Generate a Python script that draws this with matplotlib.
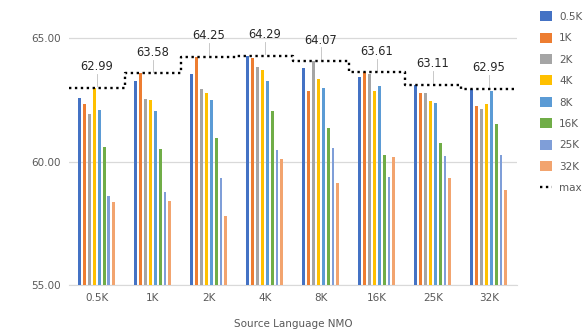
import matplotlib
matplotlib.use("Agg")
import matplotlib.pyplot as plt
from matplotlib.lines import Line2D
from matplotlib.patches import Patch
import numpy as np

groups = ["0.5K", "1K", "2K", "4K", "8K", "16K", "25K", "32K"]
series = ["0.5K", "1K", "2K", "4K", "8K", "16K", "25K", "32K"]
colors = ["#4472C4", "#ED7D31", "#A5A5A5", "#FFC000",
          "#5B9BD5", "#70AD47", "#7F9ED8", "#F2A46F"]

# rows = source-language group, cols = series
values = np.array([
    [62.58, 62.35, 61.93, 62.99, 62.08, 60.58, 58.62, 58.35],
    [63.26, 63.58, 62.54, 62.50, 62.04, 60.51, 58.77, 58.39],
    [63.53, 64.25, 62.95, 62.78, 62.49, 60.94, 59.32, 57.81],
    [64.29, 64.20, 63.84, 63.69, 63.27, 62.05, 60.47, 60.12],
    [63.77, 62.84, 64.07, 63.34, 62.99, 61.34, 60.55, 59.14],
    [63.42, 63.61, 63.53, 62.84, 63.07, 60.26, 59.36, 60.19],
    [63.11, 62.76, 62.76, 62.45, 62.39, 60.74, 60.23, 59.32],
    [62.95, 62.24, 62.12, 62.35, 62.87, 61.53, 60.28, 58.86],
])
max_vals = [62.99, 63.58, 64.25, 64.29, 64.07, 63.61, 63.11, 62.95]

fig = plt.figure(figsize=(5.88, 3.35), dpi=100, facecolor="w")
ax = fig.add_axes([0.117, 0.149, 0.762, 0.811])

x = np.arange(len(groups))
step = 0.0868
width = 0.052
for i, name in enumerate(series):
    ax.bar(x + (i - 3.5) * step, values[:, i] - 55, width=width, bottom=55,
           color=colors[i], zorder=3)

# step line of maxima
dots = (0, (1, 1.5))
xs = np.repeat(np.arange(len(groups) + 1) - 0.5, 2)[1:-1]
ys = np.repeat(max_vals, 2)
ax.plot(xs, ys, color="black", lw=1.7, linestyle=dots, zorder=4)

for xi, m in zip(x, max_vals):
    ax.plot([xi, xi], [m + 0.06, m + 0.55], color="#bfbfbf", lw=0.6, zorder=2)
    ax.text(xi, m + 0.85, f"{m:.2f}", ha="center", va="center",
            fontsize=8.3, color="#262626", zorder=5)

ax.set_xlim(-0.5, len(groups) - 0.5)
ax.set_ylim(55, 66)
ax.set_yticks([55, 60, 65])
ax.set_yticklabels(["55.00", "60.00", "65.00"])
ax.set_xticks(x)
ax.set_xticklabels(groups)
ax.tick_params(axis="both", length=0, labelsize=7.5, labelcolor="#595959", pad=6)
ax.grid(axis="y", color="#d9d9d9", lw=0.9, zorder=0)
for s in ["top", "right", "left"]:
    ax.spines[s].set_visible(False)
ax.spines["bottom"].set_color("#d9d9d9")
ax.set_xlabel("Source Language NMO", fontsize=7.5, color="#595959", labelpad=11)

handles = [Patch(facecolor=c, label=n) for c, n in zip(colors, series)]
handles.append(Line2D([0], [0], color="black", lw=1.7, linestyle=dots, label="max"))
leg = fig.legend(handles=handles, loc="upper left", bbox_to_anchor=(0.903, 0.995),
                 frameon=False, fontsize=7.5, labelspacing=1.05,
                 handlelength=1.1, handleheight=1.1, handletextpad=0.7)
for t in leg.get_texts():
    t.set_color("#595959")

plt.savefig("out.png", dpi=100, facecolor="w")
